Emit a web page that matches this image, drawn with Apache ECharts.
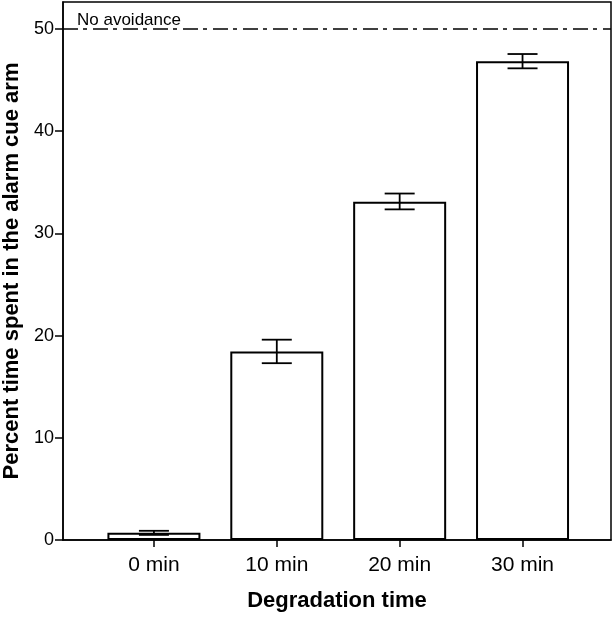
<!DOCTYPE html>
<html>
<head>
<meta charset="utf-8">
<script src="https://cdn.jsdelivr.net/npm/echarts@6/dist/echarts.min.js"></script>
<style>html,body{margin:0;padding:0;background:#fff;}#c{width:614px;height:617px;}</style>
</head>
<body>
<div id="c"></div>
<script>
const categories = ['0 min', '10 min', '20 min', '30 min'];
const means = [0.7, 18.45, 33.1, 46.85];
const errLow = [0.5, 17.3, 32.35, 46.15];
const errHigh = [0.9, 19.6, 33.9, 47.55];
const yTicks = [0, 10, 20, 30, 40, 50];
const noAvoidance = 50;

const chart = echarts.init(document.getElementById('c'));
const FONT = '"Liberation Sans", Arial, sans-serif';
chart.setOption({
  animation: false,
  grid: { left: 63, right: 3, top: 2, bottom: 77, outerBoundsMode: 'none', containLabel: false, show: true, borderColor: '#000', borderWidth: 1.5, backgroundColor: 'transparent' },
  xAxis: {
    type: 'value', min: -0.74, max: 3.72,
    name: 'Degradation time', nameLocation: 'middle', nameGap: 50,
    nameTextStyle: { fontFamily: FONT, fontSize: 22, fontWeight: 'bold', color: '#000' },
    splitLine: { show: false },
    axisLine: { show: true, onZero: false, lineStyle: { color: '#000', width: 1.5 } },
    axisTick: { show: true, length: 7, customValues: [0, 1, 2, 3], lineStyle: { color: '#000', width: 1.5 } },
    axisLabel: { customValues: [0, 1, 2, 3], formatter: v => categories[Math.round(v)] || '', fontFamily: FONT, fontSize: 21, color: '#000', margin: 15 }
  },
  yAxis: {
    type: 'value', min: 0, max: 52.64,
    name: 'Percent time spent in the alarm cue arm', nameLocation: 'middle', nameGap: 39,
    nameTextStyle: { fontFamily: FONT, fontSize: 22, fontWeight: 'bold', color: '#000' },
    splitLine: { show: false },
    axisLine: { show: true, onZero: false, lineStyle: { color: '#000', width: 1.5 } },
    axisTick: { show: true, length: 8, customValues: yTicks, lineStyle: { color: '#000', width: 1.5 } },
    axisLabel: { customValues: yTicks, fontFamily: FONT, fontSize: 18, color: '#000', margin: 9 }
  },
  series: [
    {
      type: 'bar',
      data: means.map((m, i) => [i, m]),
      barWidth: 93,
      itemStyle: { color: '#fff', borderColor: '#000', borderWidth: 2 },
      markLine: {
        symbol: 'none', silent: true,
        lineStyle: { color: '#000', width: 1.5, type: [15, 5, 4, 6] },
        label: { show: true, position: 'insideStartTop', formatter: 'No avoidance', fontFamily: FONT, fontSize: 17, color: '#000', distance: [14, 0] },
        data: [{ yAxis: noAvoidance }]
      }
    },
    {
      type: 'custom',
      data: categories.map((c, i) => [i, errLow[i], errHigh[i]]),
      renderItem: function (params, api) {
        const x = api.value(0);
        const lo = api.coord([x, api.value(1)]);
        const hi = api.coord([x, api.value(2)]);
        const hw = 15;
        const st = { stroke: '#000', lineWidth: 1.8 };
        return {
          type: 'group',
          children: [
            { type: 'line', shape: { x1: lo[0], y1: lo[1], x2: hi[0], y2: hi[1] }, style: st },
            { type: 'line', shape: { x1: lo[0] - hw, y1: lo[1], x2: lo[0] + hw, y2: lo[1] }, style: st },
            { type: 'line', shape: { x1: hi[0] - hw, y1: hi[1], x2: hi[0] + hw, y2: hi[1] }, style: st }
          ]
        };
      },
      z: 5
    }
  ]
});
</script>
</body>
</html>
